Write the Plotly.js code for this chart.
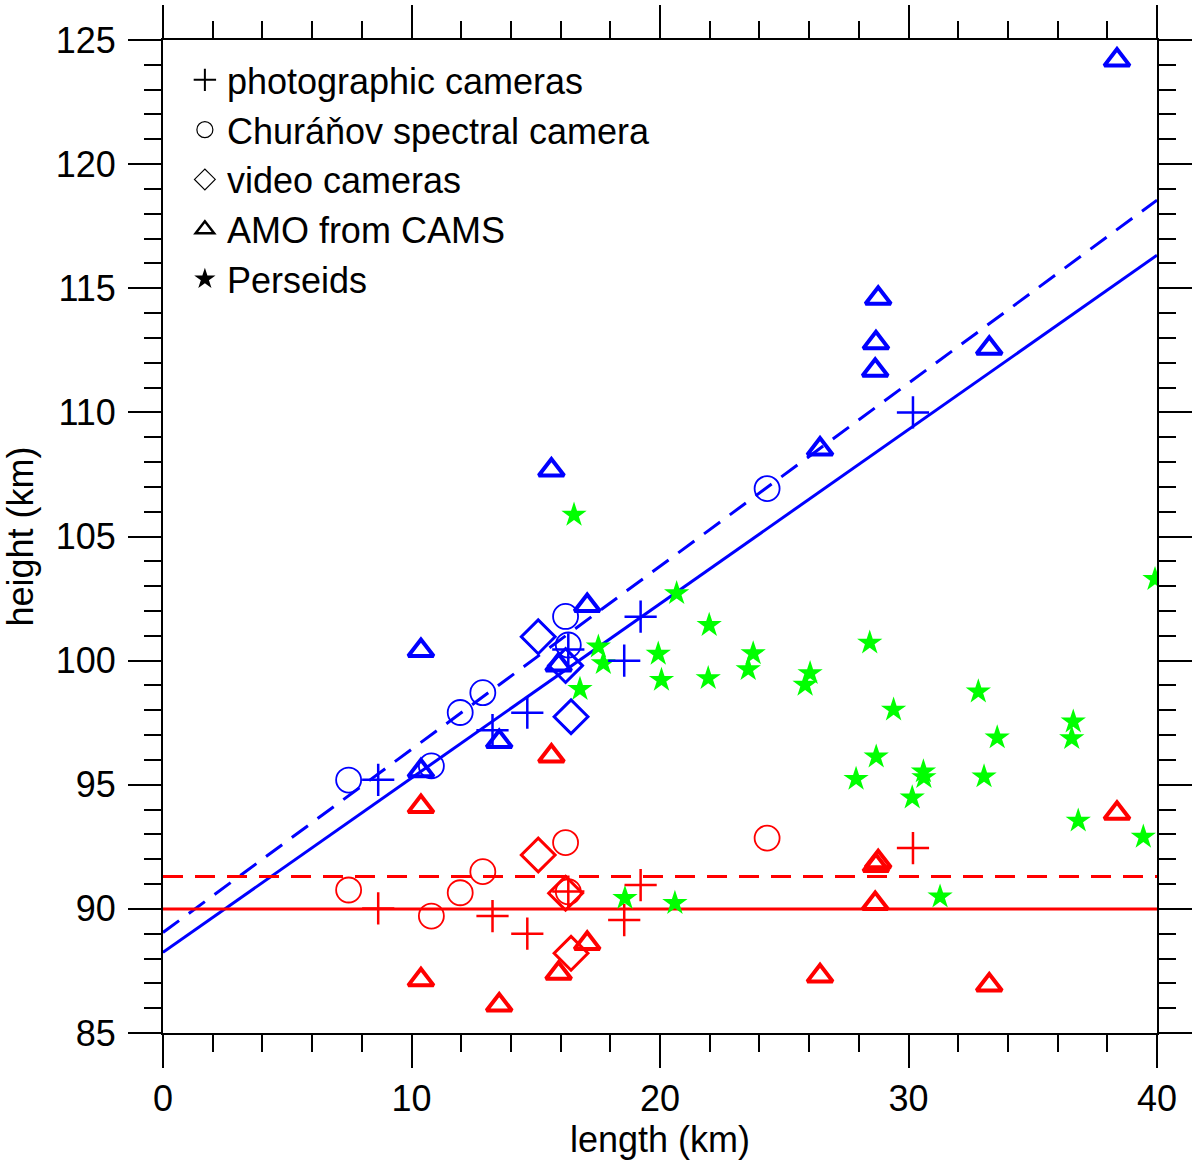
<!DOCTYPE html>
<html>
<head>
<meta charset="utf-8">
<script src="https://cdn.plot.ly/plotly-3.0.1.min.js"></script>
<style>html,body{margin:0;padding:0;background:#fff;}#chart{width:1200px;height:1173px;}</style>
</head>
<body>
<div id="chart"></div>
<script>
// ---- data ----
// photographic cameras (+)
var photoLen   = [8.66, 13.26, 14.66, 16.31, 18.56, 19.22, 30.18];
var photoBegin = [95.2, 97.2, 97.9, 100.45, 100.0, 101.77, 110.0];
var photoEnd   = [90.02, 89.71, 89.0, 90.7, 89.55, 90.96, 92.45];
// Churáňov spectral camera (o)
var circLen   = [7.47, 10.8, 11.96, 12.87, 16.2, 16.31, 24.31];
var circBegin = [95.19, 95.76, 97.91, 98.71, 101.78, 100.63, 106.93];
var circEnd   = [90.76, 89.71, 90.65, 91.5, 92.67, 90.69, 92.85];
// video cameras (diamond)
var vidLen   = [15.1, 16.2, 16.42];
var vidBegin = [100.96, 99.8, 97.74];
var vidEnd   = [92.17, 90.63, 88.21];
// AMO from CAMS (triangle)
var amoLen   = [10.38, 10.38, 13.53, 15.63, 15.92, 17.07, 26.44, 28.66, 28.69, 28.78, 33.25, 38.39];
var amoBegin = [100.41, 95.56, 96.74, 107.68, 99.82, 102.22, 108.52, 111.7, 112.8, 114.6, 112.58, 124.19];
var amoEnd   = [94.12, 87.14, 86.13, 96.16, 87.41, 88.61, 87.3, 90.22, 91.75, 91.9, 86.93, 93.85];
// Perseids (star)
var perLen = [16.54, 20.67, 21.98, 28.44, 17.52, 17.72, 19.93, 20.06, 21.94, 23.75, 23.55, 26.04, 25.84, 16.78, 29.4, 28.7,
              27.89, 30.15, 18.59, 20.6, 39.92, 32.81, 36.63, 36.57, 33.57, 30.6, 30.62, 33.04, 36.83, 39.45, 31.27];
var perH   = [105.87, 102.71, 101.43, 100.72, 100.56, 99.89, 100.27, 99.22, 99.29, 100.29, 99.65, 99.49, 99.02, 98.85, 98.02, 96.13,
              95.23, 94.48, 90.43, 90.23, 103.28, 98.75, 97.54, 96.87, 96.9, 95.53, 95.3, 95.33, 93.55, 92.9, 90.49];
// fitted lines (endpoints at length 0 and 40)
var lineLen        = [0, 40];
var beginFitSolid  = [88.25, 116.33];
var beginFitDashed = [89.05, 118.55];
var endFitSolid    = [90.0, 90.0];
var endFitDashed   = [91.3, 91.3];
var legendNames = ['photographic cameras', 'Churáňov spectral camera', 'video cameras', 'AMO from CAMS', 'Perseids'];

var BLUE = '#0000ff', RED = '#ff0000', GREEN = '#00ff00';
var FONT = 'Liberation Sans, Arial, sans-serif';

function lineTrace(y, color, dash) {
  return {x: lineLen, y: y, mode: 'lines', showlegend: false, hoverinfo: 'skip',
          line: {color: color, width: 3, dash: dash}};
}
function mk(x, y, color, symbol, size, lw) {
  return {x: x, y: y, mode: 'markers', type: 'scatter', showlegend: false,
          marker: {symbol: symbol, size: size, color: color, line: {color: color, width: lw}}};
}
var traces = [
  lineTrace(beginFitSolid, BLUE, 'solid'),
  lineTrace(beginFitDashed, BLUE, '20px,12px'),
  lineTrace(endFitSolid, RED, 'solid'),
  lineTrace(endFitDashed, RED, '20px,12px'),
  mk(perLen, perH, GREEN, 'star', 19, 0),
  mk(photoLen, photoBegin, BLUE, 'cross-thin-open', 23, 2.5),
  mk(photoLen, photoEnd, RED, 'cross-thin-open', 23, 2.5),
  mk(circLen, circBegin, BLUE, 'circle-open', 25, 1.8),
  mk(circLen, circEnd, RED, 'circle-open', 25, 1.8),
  mk(vidLen, vidBegin, BLUE, 'diamond-open', 26, 3),
  mk(vidLen, vidEnd, RED, 'diamond-open', 26, 3),
  mk(amoLen, amoBegin, BLUE, 'triangle-up-open', 22, 4),
  mk(amoLen, amoEnd, RED, 'triangle-up-open', 22, 4)
];
// legend entries (black symbols)
var legSymbols = ['cross-thin-open', 'circle-open', 'diamond-open', 'triangle-up-open', 'star'];
var legWidths = [2, 1.2, 1.2, 2.5, 0];
for (var i = 0; i < legendNames.length; i++) {
  traces.push({x: [null], y: [null], mode: 'markers', name: legendNames[i], showlegend: true,
               marker: {symbol: legSymbols[i], size: 16, color: '#000', line: {color: '#000', width: legWidths[i]}}});
}

var axisCommon = {
  showline: true, linecolor: '#000', linewidth: 2, mirror: 'ticks',
  ticks: 'outside', ticklen: 33, tickwidth: 2, tickcolor: '#000',
  showgrid: false, zeroline: false,
  tickfont: {family: FONT, size: 36, color: '#000'}
};
var layout = {
  width: 1200, height: 1173,
  margin: {l: 163, r: 43, t: 40, b: 140},
  paper_bgcolor: '#fff', plot_bgcolor: '#fff',
  font: {family: FONT, size: 36, color: '#000'},
  xaxis: Object.assign({}, axisCommon, {
    range: [0, 40], tick0: 0, dtick: 10,
    minor: {dtick: 2, ticks: 'outside', ticklen: 17, tickwidth: 2, tickcolor: '#000', showgrid: false},
    title: {text: 'length (km)', font: {family: FONT, size: 36}, standoff: 6}
  }),
  yaxis: Object.assign({}, axisCommon, {
    range: [85, 125], tick0: 85, dtick: 5,
    minor: {dtick: 1, ticks: 'outside', ticklen: 17, tickwidth: 2, tickcolor: '#000', showgrid: false},
    ticklabelstandoff: 5,
    title: {text: 'height (km)', font: {family: FONT, size: 36}, standoff: 12}
  }),
  showlegend: true,
  legend: {x: 0.02, y: 0.99, xanchor: 'left', yanchor: 'top', bgcolor: 'rgba(0,0,0,0)',
           font: {family: FONT, size: 36, color: '#000'}, itemwidth: 34, tracegroupgap: 0}
};
Plotly.newPlot('chart', traces, layout, {displayModeBar: false, staticPlot: true});
</script>
</body>
</html>
